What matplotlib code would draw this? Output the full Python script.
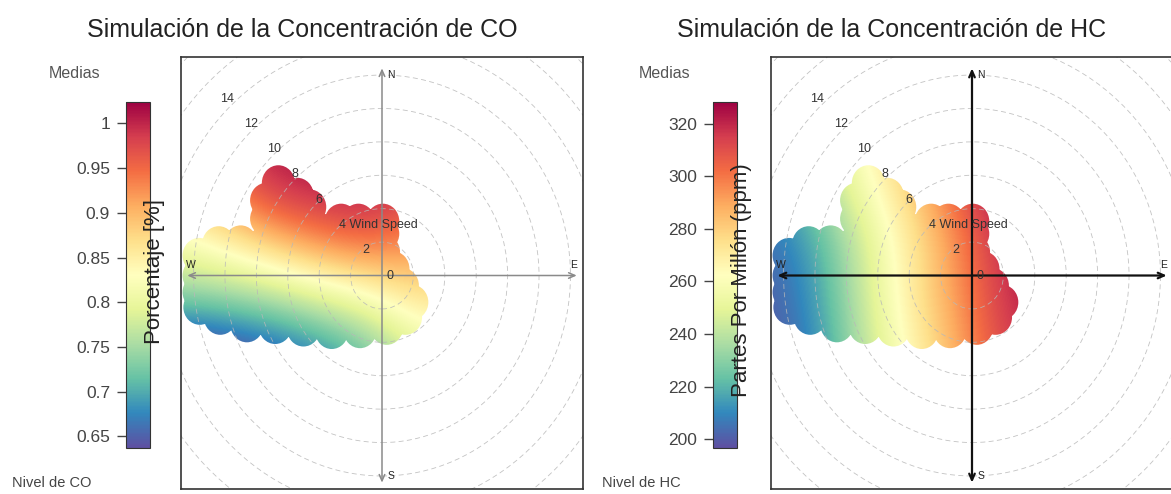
import numpy as np
import matplotlib
matplotlib.use('Agg')
import matplotlib.pyplot as plt
from matplotlib.path import Path
from matplotlib.patches import Circle
from matplotlib.colors import Normalize

plt.rcParams['font.family'] = ['Liberation Sans', 'DejaVu Sans']

# wind speed scale (m/s)
upper = 12.4
rings = [2, 4, 6, 8, 10, 12, 14, 16, 18]
ring_labels = [0, 2, 4, 6, 8, 10, 12, 14]

# u/v of the outer wind bins holding data, walked round counter-clockwise
cov_u = [-11.6, -10.3, -8.6, -6.8, -5.0, -3.2, -1.4, 0.3, 1.5, 1.9, 1.3, 0.7, 0.1,
         0.05, 0.05, -1.5, -2.6, -4.6, -5.4, -6.6, -7.35, -7.35, -9.0, -10.4,
         -11.65, -11.65, -11.65]
cov_v = [-1.9, -2.5, -2.95, -3.05, -3.2, -3.35, -3.3, -3.1, -2.5, -1.6, -0.6, 0.4, 1.4,
         2.5, 3.25, 3.25, 3.25, 4.1, 4.8, 5.55, 4.5, 3.4, 1.95, 1.9,
         1.2, 0.0, -1.0]
cov_r = 1.05

# smoothed means on a coarse u/v grid
grid_u = [-13, -10, -7, -4, -1, 2, 5]
grid_v = [8, 5, 2, -1, -4, -7]
co_grid = [
    [0.92, 0.98, 1.01, 1.02, 1.02, 1.00, 0.98],
    [0.87, 0.93, 0.99, 1.00, 1.01, 0.98, 0.95],
    [0.82, 0.85, 0.89, 0.93, 0.95, 0.93, 0.90],
    [0.74, 0.75, 0.77, 0.80, 0.83, 0.87, 0.87],
    [0.63, 0.64, 0.66, 0.69, 0.73, 0.80, 0.82],
    [0.58, 0.60, 0.62, 0.65, 0.69, 0.75, 0.78],
]
hc_grid = [
    [222, 242, 264, 284, 312, 330, 330],
    [210, 230, 256, 278, 305, 330, 330],
    [203, 217, 245, 271, 295, 321, 328],
    [200, 213, 243, 270, 293, 318, 325],
    [198, 210, 240, 266, 289, 314, 322],
    [196, 207, 236, 262, 285, 310, 320],
]

co_lim = (0.637, 1.024)
co_ticks = [0.65, 0.7, 0.75, 0.8, 0.85, 0.9, 0.95, 1.0]
co_ticklabels = ['0.65', '0.7', '0.75', '0.8', '0.85', '0.9', '0.95', '1']
hc_lim = (196.7, 328.2)
hc_ticks = [200, 220, 240, 260, 280, 300, 320]
hc_ticklabels = ['200', '220', '240', '260', '280', '300', '320']

W, H = 1171, 494
fig = plt.figure(figsize=(W / 100, H / 100), dpi=100)


def coverage_path():
    pts = np.column_stack([cov_u, cov_v])
    area = 0.5 * np.sum(pts[:, 0] * np.roll(pts[:, 1], -1) - np.roll(pts[:, 0], -1) * pts[:, 1])
    if area < 0:
        pts = pts[::-1]
    parts = [Path(np.vstack([pts, pts[:1]]), closed=True)]
    parts += [Path.circle((u, v), cov_r) for u, v in zip(cov_u, cov_v)]
    return Path.make_compound_path(*parts)


def panel(x0, cb_x, grid, lim, ticks, ticklabels, title, cbar_label, cbar_label_y, footer,
          axis_col, axis_lw):
    # x0: left pixel of the panel
    ax = fig.add_axes([(x0 + 181) / W, 5 / H, 402 / W, 432 / H])
    ax.set_xlim(-12.8, 12.8)
    ax.set_ylim(-12.78, 13.08)
    ax.set_xticks([])
    ax.set_yticks([])
    for s in ax.spines.values():
        s.set_color('#333333')
        s.set_linewidth(1.2)

    du = grid_u[1] - grid_u[0]
    dv = grid_v[0] - grid_v[1]
    ext = (grid_u[0] - du / 2, grid_u[-1] + du / 2, grid_v[-1] - dv / 2, grid_v[0] + dv / 2)
    norm = Normalize(lim[0], lim[1], clip=True)
    im = ax.imshow(np.array(grid, dtype=float), extent=ext, origin='upper', aspect='auto',
                   cmap='Spectral_r', norm=norm, interpolation='bicubic',
                   interpolation_stage='data', zorder=1)
    im.set_clip_path(coverage_path(), transform=ax.transData)

    for r in rings:
        ax.add_patch(Circle((0, 0), r, fill=False, ec='#b8b8b8', lw=0.6, alpha=0.85,
                            ls=(0, (6, 4)), zorder=2))

    ap = dict(arrowstyle='<->,head_length=0.45,head_width=0.2', color=axis_col,
              lw=axis_lw, shrinkA=0, shrinkB=0)
    ax.annotate('', xy=(upper, 0), xytext=(-upper, 0), arrowprops=ap, zorder=3)
    ax.annotate('', xy=(0, upper), xytext=(0, -upper), arrowprops=ap, zorder=3)
    ax.text(0.35, upper - 0.1, 'N', fontsize=7.5, ha='left', va='top', color='#222')
    ax.text(0.35, -upper + 0.1, 'S', fontsize=7.5, ha='left', va='bottom', color='#222')
    ax.text(upper - 0.2, 0.35, 'E', fontsize=7.5, ha='center', va='bottom', color='#222')
    ax.text(-upper + 0.2, 0.35, 'W', fontsize=7.5, ha='center', va='bottom', color='#222')

    a = np.deg2rad(315)
    for ws in ring_labels:
        txt = '%d Wind Speed' % ws if ws == 4 else str(ws)
        ax.annotate(txt, (1.07 * ws * np.sin(a), 1.07 * ws * np.cos(a)), xytext=(3, 0),
                    textcoords='offset points', ha='left', va='center', fontsize=9,
                    color='#333', zorder=4)

    cax = fig.add_axes([cb_x / W, (H - 448) / H, 24 / W, 346 / H])
    cb = fig.colorbar(im, cax=cax)
    cb.outline.set_linewidth(0.8)
    cb.outline.set_edgecolor('#333')
    cax.yaxis.set_ticks_position('left')
    cb.set_ticks(ticks)
    cb.set_ticklabels(ticklabels)
    cax.tick_params(length=6.5, width=1.0, color='#444', labelcolor='#444',
                    labelsize=12.5, pad=5)

    fig.text((cb_x + 28) / W, 1 - cbar_label_y / H, cbar_label, rotation=90,
             ha='center', va='center', fontsize=16, color='#222')
    fig.text((x0 + 75) / W, 1 - 73 / H, 'Medias', ha='center', va='center',
             fontsize=11.5, color='#555')
    fig.text((x0 + 12) / W, 1 - 483 / H, footer, ha='left', va='center',
             fontsize=10.5, color='#444')
    fig.text((x0 + 302) / W, 1 - 30 / H, title, ha='center', va='center',
             fontsize=18, color='#222')


panel(0, 126, co_grid, co_lim, co_ticks, co_ticklabels,
      'Simulación de la Concentración de CO', 'Porcentaje [%]', 271, 'Nivel de CO',
      '#8a8a8a', 1.1)
panel(590, 713, hc_grid, hc_lim, hc_ticks, hc_ticklabels,
      'Simulación de la Concentración de HC', 'Partes Por Millón (ppm)', 280, 'Nivel de HC',
      '#111111', 1.6)

fig.savefig('out.png', dpi=100)
